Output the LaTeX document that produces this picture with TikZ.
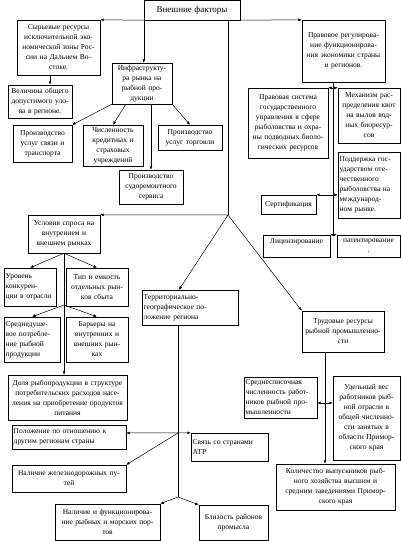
\documentclass[tikz,border=0pt]{standalone}
\usepackage{fontspec}
\setmainfont{Liberation Serif}
\usetikzlibrary{arrows.meta,shadows}
\tikzset{
    factor/.style={
        draw, fill=white, line width=0.4pt,
        inner xsep=1.5pt, inner ysep=1pt,
        font=\fontsize{7.5}{10}\selectfont,
        drop shadow={shadow xshift=1.2pt, shadow yshift=-1.2pt, fill=black!60, opacity=.6}
    },
    link/.style={line width=0.5pt},
    arr/.style={link, -{Latex[length=3.5pt,width=2.8pt]}},
    arrs/.style={link, {Latex[length=3.5pt,width=2.8pt]}-{Latex[length=3.5pt,width=2.8pt]}}
}
% box given by its corners: name, x1, y1, x2, y2, alignment, text
\newcommand{\factor}[7]{
	\pgfmathsetmacro{\factorwidth}{#4-#2-3.4}
	\node[factor, align=#6, text width=\factorwidth pt,
		minimum width=#4-#2, minimum height=#5-#3]
		(#1) at ({(#2+#4)/2},{(#3+#5)/2}) {#7};
}

\begin{document}
\begin{tikzpicture}[x=1pt,y=-1pt]
		\fill[white] (0,0) rectangle (401,541);
		\useasboundingbox (0,0) rectangle (401,541);

		% Top
		\factor{ext}{144}{0}{240}{20}{center}{\fontsize{9}{11}\selectfont Внешние факторы}
		\factor{raw}{17}{20}{100}{75}{center}{Сырьевые ресурсы\\ исключительной эко-\\ номической зоны Рос-\\ сии на Дальнем Во-\\ стоке.}
		\factor{tac}{8}{85}{72}{118}{center}{Величина общего\\ допустимого уло-\\ ва в регионе.}
		\factor{legal}{302}{20}{385}{82}{center}{Правовое регулирова-\\ ние функционирова-\\ ния экономики страны\\ и регионов.}

		% Infrastructure
		\factor{infra}{112}{63}{172}{104}{center}{Инфраструкту-\\ ра рынка на\\ рыбной про-\\ дукции}
		\factor{transport}{13}{125}{72}{162}{center}{Производство\\ услуг связи и\\ транспорта}
		\factor{credit}{83}{125}{143}{166}{center}{Численность\\ кредитных и\\ страховых\\ учреждений}
		\factor{trade}{158}{125}{222}{150}{center}{Производство\\ услуг торговли}
		\factor{repair}{119}{170}{183}{204}{center}{Производство\\ судоремонтного\\ сервиса}

		% Legal side
		\factor{system}{248}{88}{328}{158}{center}{Правовая система\\ государственного\\ управления в сфере\\ рыболовства и охра-\\ ны подводных биоло-\\ гических ресурсов}
		\factor{quota}{338}{88}{400}{143}{center}{Механизм рас-\\ пределения квот\\ на вылов вод-\\ ных биоресур-\\ сов}
		\factor{support}{338}{152}{400}{218}{left}{Поддержка гос-\\ ударством оте-\\ чественного\\ рыболовства на\\ международ-\\ ном рынке.}
		\factor{cert}{261}{195}{316}{214}{center}{Сертификация}
		\factor{lic}{263}{235}{330}{257}{center}{Лицензирование\\ \mbox{}}
		\factor{patent}{337}{235}{400}{257}{center}{патентирование\\ .}

		% Demand
		\factor{demand}{28}{215}{100}{253}{center}{Условия спроса на\\ внутреннем и\\ внешнем рынках}
		\factor{compet}{4}{268}{56}{306}{left}{Уровень\\ конкурен-\\ ции в отрасли}
		\factor{markets}{66}{268}{128}{306}{center}{Тип и емкость\\ отдельных рын-\\ ков сбыта}
		\factor{percap}{4}{317}{60}{362}{left}{Среднедуше-\\ вое потребле-\\ ние рыбной\\ продукции}
		\factor{barriers}{66}{317}{128}{362}{center}{Барьеры на\\ внутренних и\\ внешних рын-\\ ках}
		\factor{portion}{8}{375}{127}{420}{center}{Доля рыбопродукции в структуре\\ потребительских расходов насе-\\ ления на приобретение продуктов\\ питания}

		% Territory
		\factor{terr}{142}{290}{238}{325}{left}{Территориально-\\ географическое по-\\ ложение региона}
		\factor{position}{12}{425}{126}{449}{left}{Положение по отношению к\\ другим регионам страны}
		\factor{apr}{191}{433}{268}{461}{left}{Связь со странами\\ АТР}
		\factor{rail}{12}{465}{126}{492}{center}{Наличие железнодорожных пу-\\ тей}
		\factor{ports}{55}{504}{160}{540}{center}{Наличие и функционирова-\\ ние рыбных и морских пор-\\ тов}
		\factor{grounds}{199}{505}{268}{540}{center}{Близость районов\\ промысла}

		% Labour
		\factor{labour}{302}{311}{384}{352}{center}{Трудовые ресурсы\\ рыбной промышленно-\\ сти}
		\factor{avgstaff}{244}{377}{317}{418}{left}{Среднесписочная\\ численность работ-\\ ников рыбной про-\\ мышленности}
		\factor{staffshare}{333}{376}{400}{460}{center}{Удельный вес\\ работников рыб-\\ ной отрасли в\\ общей численно-\\ сти занятых в\\ области Примор-\\ ского края}
		\factor{grads}{276}{464}{395}{510}{center}{Количество выпускников рыб-\\ ного хозяйства высшим и\\ средним заведениями Примор-\\ ского края}

		% Connectors from the top
		\draw[arr] (ext.south west) -- (raw.north east);
		\draw[arr] (ext.south east) -- (legal.north west);
		\draw[arr] (ext.south west) -- (ext.south west |- infra.north);
		\coordinate (hub) at (228,215);
		\draw[link] (ext.south -| hub) -- (hub);
		\draw[arr] (hub) -- (demand.north east);
		\draw[arr] (hub) -- (terr.122);
		\draw[arr] (hub) -- (labour.north west);
		\draw[arr] (raw.253) -- (raw.253 |- tac.north);

		% Infrastructure
		\draw[arr] (infra.south west) -- (transport.north east);
		\draw[arr] (infra.232) -- (credit.north);
		\draw[arr] (infra.south -| repair.north) -- (repair.north);
		\draw[arr] (infra.south east) -- (trade.north);

		% Legal side
		\coordinate (legal spine) at (333,235);
		\draw[link] (legal.south -| legal spine) -- (legal spine);
		\draw[arrs] (system.north east) -- (quota.north west);
		\draw[arrs] (cert.north east) -- (cert.north east -| support.west);
		\draw[arrs] (lic.north east) -- (patent.north west);

		% Demand
		\coordinate (demand split) at (64,305);
		\draw[arr] (demand.south) -- (demand.south |- portion.north);
		\draw[arr] (demand.south) -- (compet.north);
		\draw[arr] (demand.south) -- (markets.north);
		\draw[arr] (demand split) -- (percap.north);
		\draw[arr] (demand split) -- (barriers.north);

		% Territory
		\coordinate (terr hub) at (178,433);
		\coordinate (terr end) at (178,497);
		\draw[link] (terr.south -| terr hub) -- (terr end);
		\draw[arrs] (terr hub -| position.east) -- (apr.north west);
		\draw[arr] (terr hub) -- (rail.north east);
		\draw[arr] (terr end) -- (ports.north east);
		\draw[arr] (terr end) -- (grounds.north west);

		% Labour
		\coordinate (labour hub) at (325,403);
		\draw[arr] (labour.south -| labour hub) -- (labour hub |- grads.north);
		\draw[arrs] (labour hub -| avgstaff.east) -- (labour hub -| staffshare.west);

	\end{tikzpicture}
\end{document}
